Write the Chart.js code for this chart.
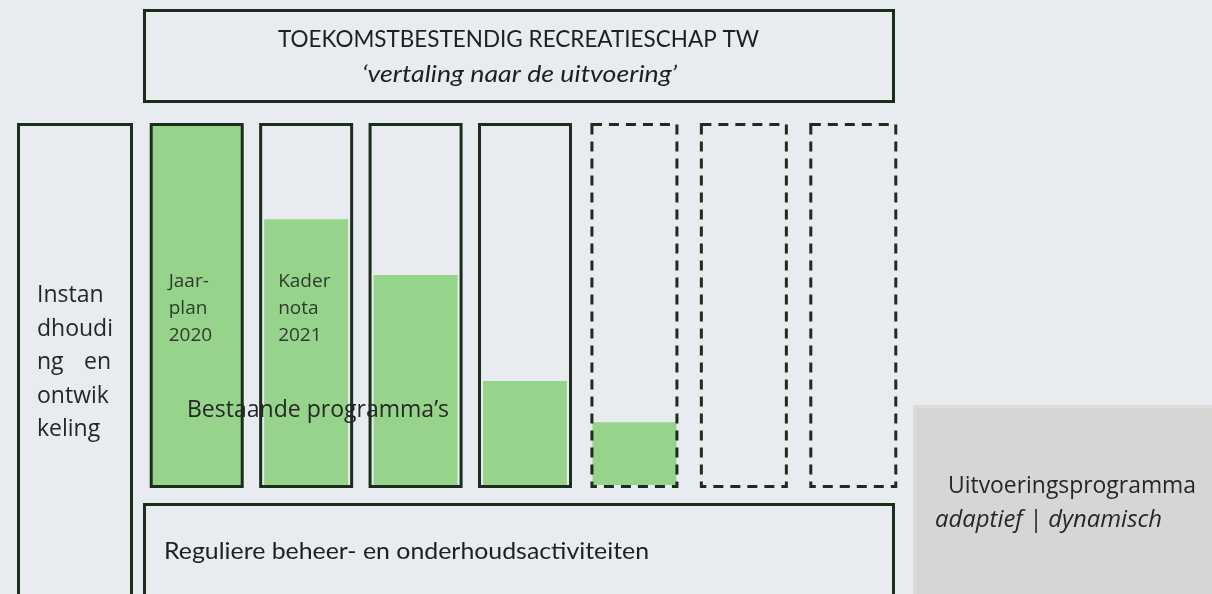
<!DOCTYPE html>
<html>
<head>
<meta charset="utf-8">
<script src="https://cdn.jsdelivr.net/npm/chart.js@4.4.0/dist/chart.umd.min.js"></script>
<style>
  html, body { margin: 0; padding: 0; background: #e8ebf0; }
  canvas { display: block; }
</style>
</head>
<body>
<canvas id="schema" width="1212" height="594"></canvas>
<script>
// columns of the programme overview, left to right
const columns = ['Jaarplan 2020', 'Kadernota 2021', '', '', '', '', ''];
const columnText = [['Jaar-', 'plan', '2020'], ['Kader', 'nota', '2021'], [], [], [], [], []];
// how far each programme is filled in (percent of column height)
const progress = [100, 74, 58.5, 29, 17.5, 0, 0];
// existing programmes get a solid frame, future ones a dashed frame
const status = ['bestaand', 'bestaand', 'bestaand', 'bestaand', 'nieuw', 'nieuw', 'nieuw'];

const titleText = 'TOEKOMSTBESTENDIG RECREATIESCHAP TW';
const subtitleText = '\u2018vertaling naar de uitvoering\u2019';
const sideLines = ['Instan', 'dhoudi', 'ng en', 'ontwik', 'keling'];
const groupLabel = 'Bestaande programma\u2019s';
const baseText = 'Reguliere beheer- en onderhoudsactiviteiten';
const panelTitle = 'Uitvoeringsprogramma';
const panelSub = 'adaptief | dynamisch';

const BG = '#e8ebf0';
const GREEN = '#97d48b';
const FRAME = '#1b2e1b';
const INK = '#262626';

// draw text squeezed/stretched to a given width (Calibri is not installed)
function fitText(ctx, text, x, y, width, font) {
    ctx.save();
    ctx.font = font;
    const w = ctx.measureText(text).width;
    ctx.translate(x, y);
    ctx.scale(width / w, 1);
    ctx.fillText(text, 0, 0);
    ctx.restore();
}

function drawLines(ctx, lines, x, y, lineHeight, font, boxRight) {
    ctx.save();
    ctx.font = font;
    lines.forEach((line, i) => {
        const words = line.split(' ');
        const yy = y + i * lineHeight;
        if (boxRight && words.length > 1 && i < lines.length - 1) {
            // justified line, like the original text box
            ctx.textAlign = 'left';
            ctx.fillText(words[0], x, yy);
            ctx.textAlign = 'right';
            ctx.fillText(words[words.length - 1], boxRight, yy);
        } else {
            ctx.textAlign = 'left';
            ctx.fillText(line, x, yy);
        }
    });
    ctx.restore();
}

const schemaPlugin = {
    id: 'schema',
    beforeDraw(chart) {
        const ctx = chart.ctx;
        ctx.save();
        ctx.fillStyle = BG;
        ctx.fillRect(0, 0, chart.width, chart.height);

        // grey panel on the right
        ctx.fillStyle = '#dcdcdc';
        ctx.fillRect(913, 405, 299, 189);
        ctx.fillStyle = '#d6d6d6';
        ctx.fillRect(916, 408, 296, 186);
        ctx.restore();
    },
    afterDatasetsDraw(chart) {
        const ctx = chart.ctx;
        const area = chart.chartArea;
        const bars = chart.getDatasetMeta(0).data;

        ctx.save();
        ctx.fillStyle = INK;
        ctx.textBaseline = 'alphabetic';

        // texts inside the columns
        bars.forEach((bar, i) => {
            const half = status[i] === 'bestaand' ? 47 : 44;
            columnText[i].forEach((t, j) => {
                ctx.font = '19px "Open Sans"';
                ctx.fillStyle = '#2f3a2f';
                ctx.fillText(t, bar.x - half + 19, 287 + j * 27);
            });
        });

        ctx.fillStyle = INK;
        fitText(ctx, groupLabel, 187, 417, 262, '23px "Open Sans"');

        // column frames
        ctx.strokeStyle = FRAME;
        ctx.lineWidth = 3;
        bars.forEach((bar, i) => {
            const solid = status[i] === 'bestaand';
            const half = solid ? 47 : 44;
            ctx.setLineDash(solid ? [] : [10, 7]);
            ctx.strokeRect(bar.x - half + 1.5, area.top - 1.5, 2 * half - 3, area.bottom - area.top + 3);
        });
        ctx.setLineDash([]);

        // surrounding boxes
        ctx.strokeRect(144.5, 10.5, 749, 91);
        ctx.strokeRect(18.5, 124.5, 113, 600);
        ctx.strokeRect(144.5, 504.5, 749, 200);

        ctx.fillStyle = '#1f1f1f';
        fitText(ctx, titleText, 278, 47, 481, '23px Lato');
        fitText(ctx, subtitleText, 362, 82, 315, 'italic 23px Lato');
        fitText(ctx, baseText, 164, 559, 485, '23px Lato');

        ctx.fillStyle = INK;
        drawLines(ctx, sideLines, 37, 302, 33.5, '23px "Open Sans"', 111);

        fitText(ctx, panelTitle, 948, 493, 248, '23px "Open Sans"');
        fitText(ctx, panelSub, 935, 527, 227, 'italic 23px "Open Sans"');
        ctx.restore();
    }
};

new Chart(document.getElementById('schema'), {
    type: 'bar',
    data: {
        labels: columns,
        datasets: [{
            label: groupLabel,
            data: progress,
            backgroundColor: GREEN,
            borderWidth: 0,
            categoryPercentage: 1,
            barPercentage: 0.767,
            // the first column is completely filled up to its frame
            inflateAmount: c => (c.dataIndex === 0 ? 2.5 : 0),
        }]
    },
    options: {
        responsive: false,
        animation: false,
        devicePixelRatio: 1,
        layout: { padding: { left: 142, right: 304, top: 126, bottom: 109 } },
        scales: {
            x: { display: false },
            y: { display: false, min: 0, max: 100 },
        },
        plugins: {
            legend: { display: false },
            tooltip: { enabled: false },
        },
    },
    plugins: [schemaPlugin],
});
</script>
</body>
</html>
